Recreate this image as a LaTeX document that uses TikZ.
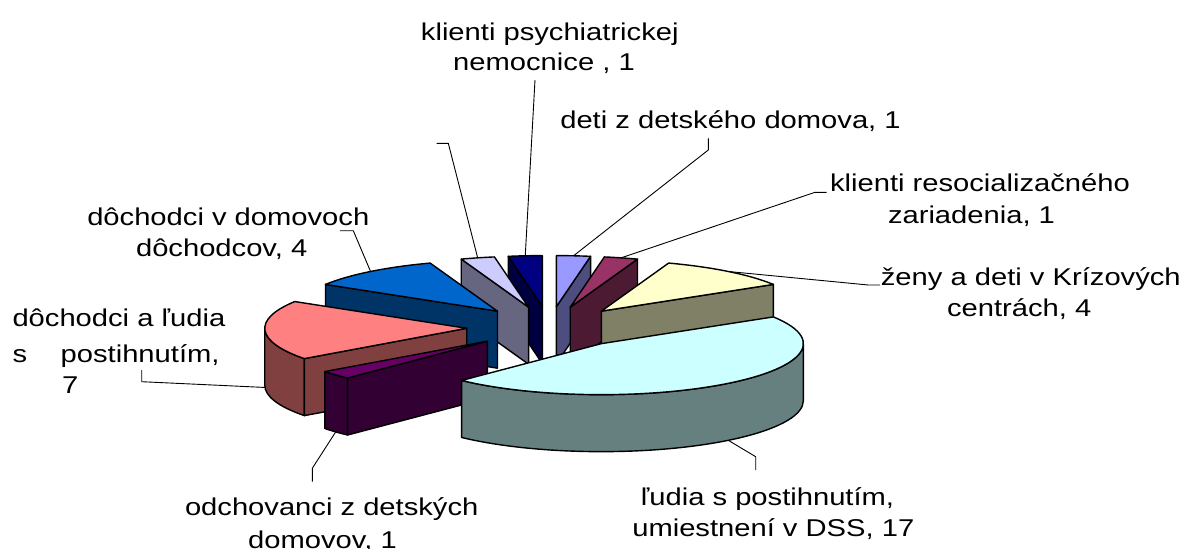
\documentclass[tikz,border=0pt]{standalone}
\usepackage{fontspec}
\newfontfamily\labfont[FakeStretch=1.2]{Liberation Sans}
\usetikzlibrary{calc}
\definecolor{top1}{HTML}{9999FF}\definecolor{side1}{HTML}{4D4D80}
\definecolor{top2}{HTML}{993366}\definecolor{side2}{HTML}{4D1A33}
\definecolor{top3}{HTML}{FFFFCC}\definecolor{side3}{HTML}{808066}
\definecolor{top4}{HTML}{CCFFFF}\definecolor{side4}{HTML}{668080}
\definecolor{top5}{HTML}{660066}\definecolor{side5}{HTML}{330033}
\definecolor{top6}{HTML}{FF8080}\definecolor{side6}{HTML}{804040}
\definecolor{top7}{HTML}{0066CC}\definecolor{side7}{HTML}{003366}
\definecolor{top8}{HTML}{CCCCFF}\definecolor{side8}{HTML}{666680}
\definecolor{top9}{HTML}{000080}\definecolor{side9}{HTML}{000040}
% slice centre and mid-arc points
\newcommand\setslice[3]{%
  \pgfmathsetmacro\slMid{(#2+#3)/2}%
  \pgfmathsetmacro\slX{549.4+82.7*cos(\slMid)}%
  \pgfmathsetmacro\slY{-327.4+20.88*sin(\slMid)}%
  \coordinate (#1) at (\slX,\slY);%
  \coordinate (#1m) at ($(#1)+({202*cos(\slMid)},{51*sin(\slMid)})$);%
  \coordinate (#1mb) at ($(#1)+({202*cos(\slMid)},{51*sin(\slMid)-57})$);%
}
\newcommand\topface[4]{%
  \filldraw[face, fill=#4] (#1) -- ++({202*cos(#2)},{51*sin(#2)})
    arc[start angle=#2, end angle=#3, x radius=202pt, y radius=51pt] -- cycle;}
\newcommand\radface[3]{%
  \filldraw[face, fill=#3] (#1) -- ++({202*cos(#2)},{51*sin(#2)}) -- ++(0,-57)
    -- ([yshift=-57pt]#1) -- cycle;}
\newcommand\sideface[4]{%
  \filldraw[face, fill=#4] ($(#1)+({202*cos(#2)},{51*sin(#2)})$)
    arc[start angle=#2, end angle=#3, x radius=202pt, y radius=51pt] -- ++(0,-57)
    arc[start angle=#3, end angle=#2, x radius=202pt, y radius=51pt] -- cycle;}
\begin{document}
\begin{tikzpicture}[x=1pt,y=1pt,
  face/.style={draw=black, line width=1.4pt, line join=round},
  leader/.style={draw=black, line width=0.9pt},
  lab/.style={font={\labfont\fontsize{24.3}{32}\selectfont}, inner sep=0pt, anchor=base}]
\useasboundingbox (0,0) rectangle (1187,-549);
% back slices
\setslice{s9}{99.73}{90}
\radface{s9}{99.73}{side9}
\topface{s9}{99.73}{90}{top9}
\setslice{s8}{109.459}{99.73}
\radface{s8}{109.459}{side8}
\topface{s8}{109.459}{99.73}{top8}
\setslice{s7}{148.378}{109.459}
\radface{s7}{148.378}{side7}
\topface{s7}{148.378}{109.459}{top7}
\setslice{s1}{90}{80.27}
\radface{s1}{80.27}{side1}
\topface{s1}{90}{80.27}{top1}
\setslice{s2}{80.27}{70.541}
\radface{s2}{70.541}{side2}
\topface{s2}{80.27}{70.541}{top2}
\setslice{s3}{70.541}{31.622}
\radface{s3}{31.622}{side3}
\topface{s3}{70.541}{31.622}{top3}
% front slices
\setslice{s6}{216.486}{148.378}
\sideface{s6}{180}{216.486}{side6}
\radface{s6}{216.486}{side6}
\topface{s6}{216.486}{148.378}{top6}
\setslice{s5}{226.216}{216.486}
\sideface{s5}{216.486}{226.216}{side5}
\radface{s5}{226.216}{side5}
\topface{s5}{226.216}{216.486}{top5}
\setslice{s4}{31.622}{-133.784}
\sideface{s4}{-133.784}{0}{side4}
\topface{s4}{31.622}{-133.784}{top4}
% labels
\node[lab] (l9a) at (549.8,-40) {klienti psychiatrickej};
\node[lab] (l9b) at (544,-70.7) {nemocnice , 1};
\node[lab] (l1) at (730.5,-128.3) {deti z detského domova, 1};
\node[lab] (l2a) at (980,-191.7) {klienti resocializačného};
\node[lab] (l2b) at (971.5,-223.3) {zariadenia, 1};
\node[lab] (l3a) at (1030.8,-285) {ženy a deti v Krízových};
\node[lab] (l3b) at (1019.2,-316.7) {centrách, 4};
\node[lab] (l7a) at (228.3,-225) {dôchodci v domovoch};
\node[lab] (l7b) at (221.7,-256.7) {dôchodcov, 4};
\node[lab] (l6a) at (118.9,-326.7) {dôchodci a ľudia};
\node[lab, anchor=base west] (l6b) at (12.5,-362.7) {s};
\node[lab, anchor=base west] (l6c) at (60.5,-362.7) {postihnutím,};
\node[lab, anchor=base west] (l6d) at (62,-393.5) {7};
\node[lab] (l5a) at (331.7,-515) {odchovanci z detských};
\node[lab] (l5b) at (322.5,-548) {domovov, 1};
\node[lab] (l4a) at (767.5,-505) {ľudia s postihnutím,};
\node[lab] (l4b) at (773.3,-536.7) {umiestnení v DSS, 17};
% leader lines
\coordinate (k9) at (535,-80);
\coordinate (k8a) at (436.7,-143.3); \coordinate (k8b) at (448.3,-143.3);
\coordinate (k1a) at (708.3,-138.3); \coordinate (k1b) at (708.3,-150);
\coordinate (k2a) at (826.7,-192.3); \coordinate (k2b) at (815,-192.3);
\coordinate (k3a) at (880,-285); \coordinate (k3b) at (868.3,-285);
\coordinate (k7a) at (340,-230.7); \coordinate (k7b) at (353.3,-230.7);
\coordinate (k6a) at (141.7,-370); \coordinate (k6b) at (141.7,-381.7);
\coordinate (k5a) at (312.3,-481.7); \coordinate (k5b) at (312.3,-468.3);
\coordinate (k4a) at (755.7,-470); \coordinate (k4b) at (755.7,-456.7);
\draw[leader] (k9) -- (s9m);
\draw[leader] (k8a) -- (k8b) -- (s8m);
\draw[leader] (k1a) -- (k1b) -- (s1m);
\draw[leader] (k2a) -- (k2b) -- (s2m);
\draw[leader] (k3a) -- (k3b) -- (s3m);
\draw[leader] (k7a) -- (k7b) -- (s7m);
\draw[leader] (k6a) -- (k6b) -- (s6mb);
\draw[leader] (k5a) -- (k5b) -- (s5mb);
\draw[leader] (k4a) -- (k4b) -- (s4mb);
\end{tikzpicture}
\end{document}
